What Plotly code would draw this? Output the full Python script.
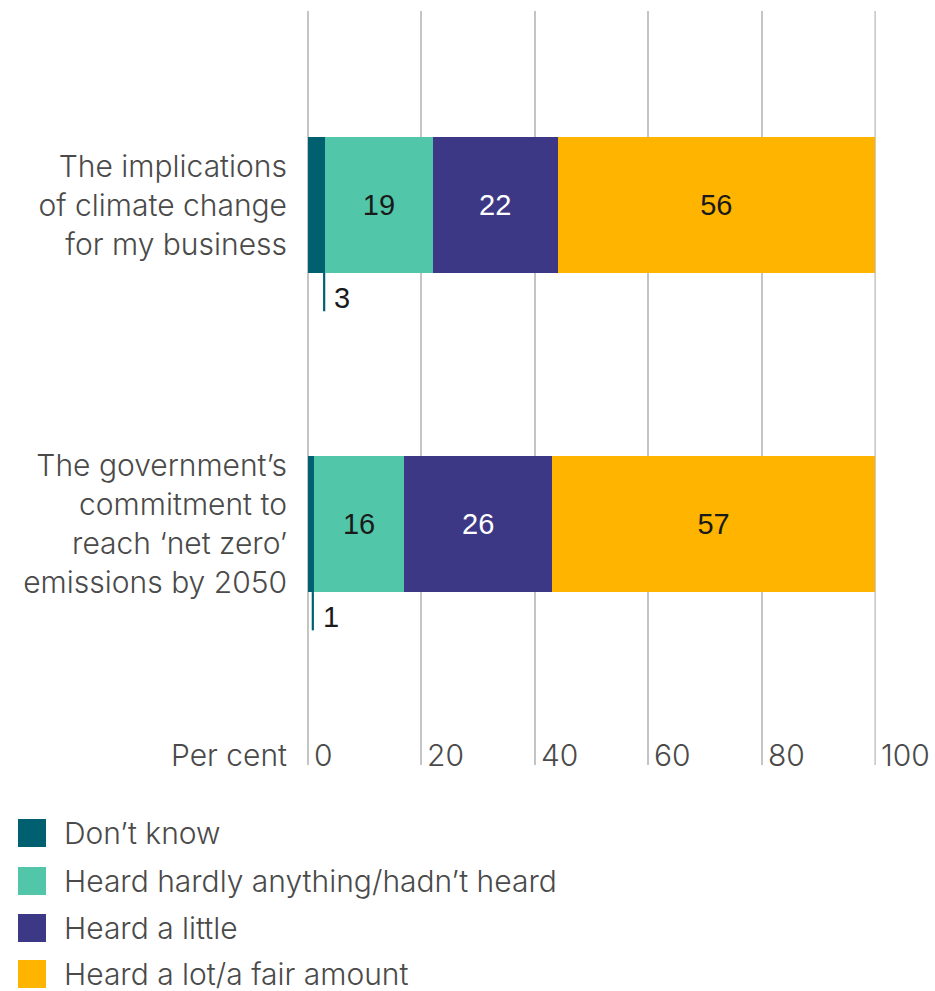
import plotly.graph_objects as go

categories = [
    "The implications<br>of climate change<br>for my business",
    "The government\u2019s<br>commitment to<br>reach \u2018net zero\u2019<br>emissions by 2050",
]
series_names = [
    "Don\u2019t know",
    "Heard hardly anything/hadn\u2019t heard",
    "Heard a little",
    "Heard a lot/a fair amount",
]
dont_know = [3, 1]
hardly = [19, 16]
little = [22, 26]
lot = [56, 57]
x_ticks = [0, 20, 40, 60, 80, 100]
axis_label = "Per cent"

colors = ["#00606F", "#51C6A9", "#3D3885", "#FFB400"]
text_colors = ["#1a1a1a", "#1a1a1a", "#ffffff", "#1a1a1a"]

W, H = 935, 991
L, R, T, B = 308, 59, 11, 226
PW, PH = W - L - R, H - T - B

def px_x(px):
    return (px - L) / PW

def px_y(py):
    return (H - B - py) / PH

label_font = dict(family="Inter, Lato, sans-serif", size=30, color="#4a4a4a", weight=300)
num_font_family = "Liberation Sans, Arial, sans-serif"
grid_color = "#c4c4c4"

fig = go.Figure()
all_series = [dont_know, hardly, little, lot]
bar_w = 0.426
for i, (name, vals) in enumerate(zip(series_names, all_series)):
    fig.add_trace(go.Bar(
        y=categories, x=vals, name=name, orientation="h",
        marker=dict(color=colors[i], line=dict(width=0)),
        width=bar_w,
        text=None if i == 0 else [str(v) for v in vals],
        textposition="inside", insidetextanchor="middle",
        textfont=dict(family=num_font_family, size=29, color=text_colors[i]),
        showlegend=False,
    ))

annotations = []
shapes = []
# gridline at the end of the range (plotly drops it at the plot edge)
shapes.append(dict(type="line", xref="x", yref="paper", x0=x_ticks[-1], x1=x_ticks[-1],
                   y0=0, y1=1, layer="below", line=dict(color=grid_color, width=1.5)))
# small-value callouts for "Don't know"
for k, (cat, v) in enumerate(zip(categories, dont_know)):
    shapes.append(dict(type="line", xref="x", yref="y",
                       x0=v - 0.15, x1=v - 0.15,
                       y0=k + bar_w / 2, y1=k + 0.333,
                       line=dict(color=colors[0], width=2.2)))
    annotations.append(dict(x=v, y=cat, xref="x", yref="y", text=str(v),
                            showarrow=False, xanchor="left", yanchor="middle",
                            xshift=7, yshift=-93,
                            font=dict(family=num_font_family, size=29, color="#1a1a1a")))

# x tick labels placed to the right of gridlines
for t in x_ticks:
    annotations.append(dict(x=t, y=0, xref="x", yref="paper", text=str(t),
                            showarrow=False, xanchor="left", yanchor="middle",
                            xshift=4, yshift=10, font=label_font))
annotations.append(dict(x=0, y=0, xref="paper", yref="paper", text=axis_label,
                        showarrow=False, xanchor="right", yanchor="middle",
                        xshift=-19, yshift=10, font=label_font))

# manual legend
row_centers = [833, 881, 928, 974]
for name, c, yc in zip(series_names, colors, row_centers):
    shapes.append(dict(type="rect", xref="paper", yref="paper",
                       x0=px_x(18), x1=px_x(46), y0=px_y(yc + 14), y1=px_y(yc - 14),
                       fillcolor=c, line=dict(width=0)))
    annotations.append(dict(x=px_x(62), y=px_y(yc), xref="paper", yref="paper",
                            text=name, showarrow=False, xanchor="left", yanchor="middle",
                            font=label_font))

fig.update_layout(
    barmode="stack",
    width=W, height=H,
    margin=dict(l=L, r=R, t=T, b=B, pad=0),
    paper_bgcolor="white", plot_bgcolor="white",
    font=label_font,
    showlegend=False,
    hovermode=False,
    annotations=annotations,
    shapes=shapes,
    xaxis=dict(range=[0, 100.15], tickvals=x_ticks, showticklabels=False,
               showgrid=True, gridcolor=grid_color, gridwidth=1.5,
               zeroline=True, zerolinecolor=grid_color, zerolinewidth=1.5,
               showline=False, ticks="", fixedrange=True),
    yaxis=dict(type="category", categoryorder="array", categoryarray=categories,
               range=[1.755, -0.608], showgrid=False, zeroline=False,
               ticks="", ticklabelstandoff=20,
               tickfont=dict(family="Inter, Lato, sans-serif", size=30, color="#4a4a4a", weight=300),
               fixedrange=True),
)

fig.write_html("out.html")
